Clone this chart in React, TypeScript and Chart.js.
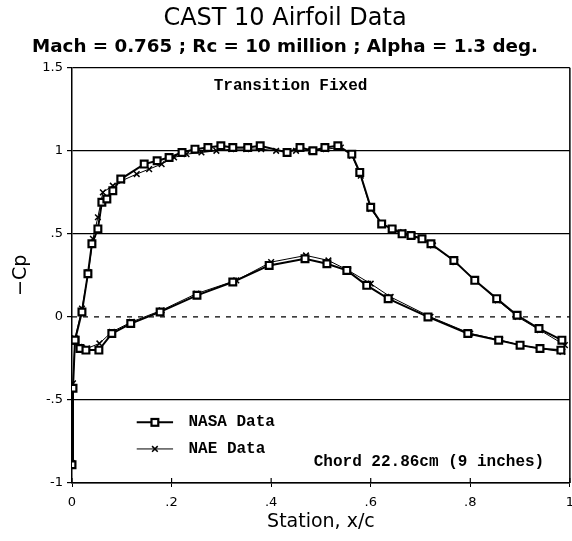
import React, { useEffect, useRef } from "react";
import { Chart, registerables } from "chart.js";

Chart.register(...registerables);

// ---- Data ----
const nasaUpperX = [0.0, 0.002, 0.006, 0.02, 0.032, 0.04, 0.052, 0.06, 0.07, 0.082, 0.098, 0.145, 0.171, 0.195, 0.221, 0.247, 0.273, 0.299, 0.323, 0.353, 0.378, 0.432, 0.458, 0.484, 0.508, 0.534, 0.562, 0.578, 0.6, 0.622, 0.643, 0.663, 0.681, 0.703, 0.721, 0.767, 0.809, 0.853, 0.894, 0.938, 0.984];
const nasaUpperY = [-0.89, -0.43, -0.14, 0.03, 0.26, 0.44, 0.53, 0.69, 0.71, 0.76, 0.83, 0.92, 0.94, 0.96, 0.99, 1.01, 1.02, 1.03, 1.02, 1.02, 1.03, 0.99, 1.02, 1.0, 1.02, 1.03, 0.98, 0.87, 0.66, 0.56, 0.53, 0.5, 0.49, 0.47, 0.44, 0.34, 0.22, 0.11, 0.01, -0.07, -0.14];
const nasaLowerX = [0.006, 0.016, 0.028, 0.054, 0.08, 0.118, 0.177, 0.251, 0.323, 0.396, 0.468, 0.512, 0.552, 0.592, 0.635, 0.715, 0.795, 0.857, 0.9, 0.94, 0.982];
const nasaLowerY = [-0.14, -0.19, -0.2, -0.2, -0.1, -0.04, 0.03, 0.13, 0.21, 0.31, 0.35, 0.32, 0.28, 0.19, 0.11, 0.0, -0.1, -0.14, -0.17, -0.19, -0.2];

const naeUpperX = [0.0, 0.002, 0.006, 0.02, 0.033, 0.042, 0.052, 0.062, 0.082, 0.1, 0.13, 0.155, 0.18, 0.205, 0.23, 0.26, 0.29, 0.32, 0.35, 0.38, 0.41, 0.45, 0.48, 0.51, 0.54, 0.562, 0.58, 0.6, 0.622, 0.645, 0.665, 0.685, 0.705, 0.725, 0.77, 0.81, 0.855, 0.895, 0.94, 0.99];
const naeUpperY = [-0.88, -0.4, -0.13, 0.05, 0.27, 0.47, 0.6, 0.75, 0.79, 0.82, 0.86, 0.89, 0.92, 0.96, 0.98, 0.99, 1.0, 1.01, 1.01, 1.01, 1.0, 1.0, 1.0, 1.01, 1.02, 0.97, 0.85, 0.65, 0.56, 0.53, 0.51, 0.49, 0.47, 0.43, 0.33, 0.22, 0.1, 0.0, -0.08, -0.17];
const naeLowerX = [0.006, 0.015, 0.03, 0.055, 0.08, 0.12, 0.18, 0.25, 0.33, 0.4, 0.47, 0.515, 0.555, 0.6, 0.64, 0.72, 0.8, 0.86, 0.9, 0.94, 0.985];
const naeLowerY = [-0.13, -0.18, -0.19, -0.16, -0.09, -0.03, 0.04, 0.14, 0.22, 0.33, 0.37, 0.34, 0.28, 0.2, 0.12, 0.0, -0.1, -0.14, -0.17, -0.19, -0.21];

const seriesLabels = ["NASA Data", "NAE Data"];
const xTicks = [0, 0.2, 0.4, 0.6, 0.8, 1];
const xTickLabels = ["0", ".2", ".4", ".6", ".8", "1"];
const yTicks = [-1, -0.5, 0, 0.5, 1, 1.5];
const yTickLabels = ["-1", "-.5", "0", ".5", "1", "1.5"];

const titleText = "CAST 10 Airfoil Data";
const subtitleText = "Mach = 0.765 ; Rc = 10 million ; Alpha = 1.3 deg.";
const xTitle = "Station, x/c";
const yTitle = "\u2212Cp";
const noteTop = "Transition Fixed";
const noteBottom = "Chord 22.86cm (9 inches)";

const MONO = "bold 16px 'Liberation Mono', 'DejaVu Sans Mono', monospace";

function surfacePoints(ux: number[], uy: number[], lx: number[], ly: number[]) {
  const pts: any[] = ux.map((x, i) => ({ x, y: uy[i] }));
  pts.push({ x: null, y: null });
  lx.forEach((x, i) => pts.push({ x, y: ly[i] }));
  return pts;
}

function labelFor(ticks: number[], labels: string[], v: number) {
  const i = ticks.findIndex((t) => Math.abs(t - v) < 1e-6);
  return i >= 0 ? labels[i] : "";
}

function drawMarker(ctx: CanvasRenderingContext2D, style: string, x: number, y: number, r: number) {
  const s = r * Math.SQRT1_2;
  if (style === "rect") {
    ctx.fillStyle = "#fff";
    ctx.fillRect(x - s, y - s, 2 * s, 2 * s);
    ctx.strokeRect(x - s, y - s, 2 * s, 2 * s);
  } else {
    ctx.beginPath();
    ctx.moveTo(x - s, y - s);
    ctx.lineTo(x + s, y + s);
    ctx.moveTo(x + s, y - s);
    ctx.lineTo(x - s, y + s);
    ctx.stroke();
  }
}

const decorPlugin = {
  id: "decor",
  beforeDatasetsDraw(chart: any) {
    const { ctx, chartArea: a, scales } = chart;
    const y0 = scales.y.getPixelForValue(0);
    ctx.save();
    ctx.strokeStyle = "#000";
    ctx.lineWidth = 1.3;
    ctx.setLineDash([5, 6]);
    ctx.beginPath();
    ctx.moveTo(a.left, y0);
    ctx.lineTo(a.right, y0);
    ctx.stroke();
    ctx.setLineDash([]);
    ctx.lineWidth = 1.5;
    ctx.beginPath();
    ctx.moveTo(a.right, a.top);
    ctx.lineTo(a.right, a.bottom);
    ctx.stroke();
    ctx.lineWidth = 1.2;
    xTicks.forEach((t) => {
      const px = scales.x.getPixelForValue(t);
      ctx.beginPath();
      ctx.moveTo(px, a.bottom);
      ctx.lineTo(px, a.bottom - 5);
      ctx.stroke();
    });
    ctx.restore();
  },
  afterDatasetsDraw(chart: any) {
    const { ctx, scales } = chart;
    const xs = scales.x;
    const ys = scales.y;
    ctx.save();
    ctx.fillStyle = "#000";
    ctx.font = MONO;
    ctx.textBaseline = "middle";
    ctx.textAlign = "center";
    ctx.fillText(noteTop, xs.getPixelForValue(0.439), ys.getPixelForValue(1.39));
    ctx.fillText(noteBottom, xs.getPixelForValue(0.717), ys.getPixelForValue(-0.875));
    const rows = [-0.635, -0.795];
    chart.data.datasets.forEach((ds: any, i: number) => {
      const yy = ys.getPixelForValue(rows[i]);
      const x1 = xs.getPixelForValue(0.13);
      const x2 = xs.getPixelForValue(0.203);
      ctx.strokeStyle = "#000";
      ctx.lineWidth = ds.borderWidth;
      ctx.beginPath();
      ctx.moveTo(x1, yy);
      ctx.lineTo(x2, yy);
      ctx.stroke();
      ctx.lineWidth = ds.pointBorderWidth;
      drawMarker(ctx, ds.pointStyle, (x1 + x2) / 2, yy, ds.pointRadius);
      ctx.fillStyle = "#000";
      ctx.textAlign = "left";
      ctx.fillText(ds.label, xs.getPixelForValue(0.234), yy);
    });
    ctx.restore();
  },
};

export default function App() {
  const ref = useRef<HTMLCanvasElement | null>(null);
  useEffect(() => {
    if (!ref.current) return;
    Chart.defaults.font.family = "'DejaVu Sans', sans-serif";
    Chart.defaults.color = "#000";
    const chart = new Chart(ref.current, {
      type: "scatter",
      data: {
        datasets: [
          {
            label: seriesLabels[0],
            data: surfacePoints(nasaUpperX, nasaUpperY, nasaLowerX, nasaLowerY),
            showLine: true,
            spanGaps: false,
            borderColor: "#000",
            borderWidth: 2,
            pointStyle: "rect",
            pointRadius: 4.8,
            pointBorderWidth: 2.2,
            pointBackgroundColor: "#fff",
            pointBorderColor: "#000",
          },
          {
            label: seriesLabels[1],
            data: surfacePoints(naeUpperX, naeUpperY, naeLowerX, naeLowerY),
            showLine: true,
            spanGaps: false,
            borderColor: "#000",
            borderWidth: 1,
            pointStyle: "crossRot",
            pointRadius: 4,
            pointBorderWidth: 1.5,
            pointBackgroundColor: "#000",
            pointBorderColor: "#000",
          },
        ],
      } as any,
      options: {
        animation: false,
        responsive: false,
        devicePixelRatio: 1,
        layout: { padding: { top: 0, left: 0, right: 12, bottom: 0 } },
        plugins: {
          legend: { display: false },
          tooltip: { enabled: false },
          title: {
            display: true,
            text: titleText,
            font: { size: 24, weight: "normal", family: "'DejaVu Sans', sans-serif" },
            color: "#000",
            padding: { top: 4, bottom: 0 },
          },
          subtitle: {
            display: true,
            text: subtitleText,
            font: { size: 18.3, weight: "bold", family: "'DejaVu Sans', sans-serif" },
            color: "#000",
            padding: { top: 3, bottom: 10 },
          },
        },
        scales: {
          x: {
            type: "linear",
            min: 0,
            max: 1,
            afterBuildTicks: (s: any) => {
              s.ticks = xTicks.map((v) => ({ value: v }));
            },
            afterFit: (s: any) => {
              s.height = 58;
            },
            ticks: {
              callback: (v: any) => labelFor(xTicks, xTickLabels, Number(v)),
              font: { size: 13 },
              color: "#000",
              padding: 8,
              maxRotation: 0,
              autoSkip: false,
            },
            grid: { drawOnChartArea: false, drawTicks: true, tickLength: 4, tickColor: "#000" },
            border: { display: true, color: "#000", width: 1.5 },
            title: {
              display: true,
              text: xTitle,
              font: { size: 19 },
              color: "#000",
              padding: { top: 8, bottom: 8 },
            },
          },
          y: {
            type: "linear",
            min: -1,
            max: 1.5,
            afterBuildTicks: (s: any) => {
              s.ticks = yTicks.map((v) => ({ value: v }));
            },
            afterFit: (s: any) => {
              s.width = 72;
            },
            ticks: {
              callback: (v: any) => labelFor(yTicks, yTickLabels, Number(v)),
              font: { size: 13 },
              color: "#000",
              padding: 4,
              autoSkip: false,
            },
            grid: {
              color: (c: any) => (c.tick && Math.abs(c.tick.value) < 1e-6 ? "rgba(0,0,0,0)" : "#000"),
              lineWidth: 1.2,
              drawTicks: true,
              tickLength: 5,
              tickColor: "#000",
            },
            border: { display: true, color: "#000", width: 1.5 },
            title: {
              display: true,
              text: yTitle,
              font: { size: 19 },
              color: "#000",
              padding: { top: 10, bottom: 10 },
            },
          },
        },
      } as any,
      plugins: [decorPlugin],
    });
    return () => chart.destroy();
  }, []);

  return (
    <div
      style={{
        position: "fixed",
        left: 0,
        top: 0,
        width: 572,
        height: 541,
        overflow: "hidden",
        background: "#fff",
      }}
    >
      <canvas ref={ref} width={582} height={541} style={{ display: "block" }} />
    </div>
  );
}
